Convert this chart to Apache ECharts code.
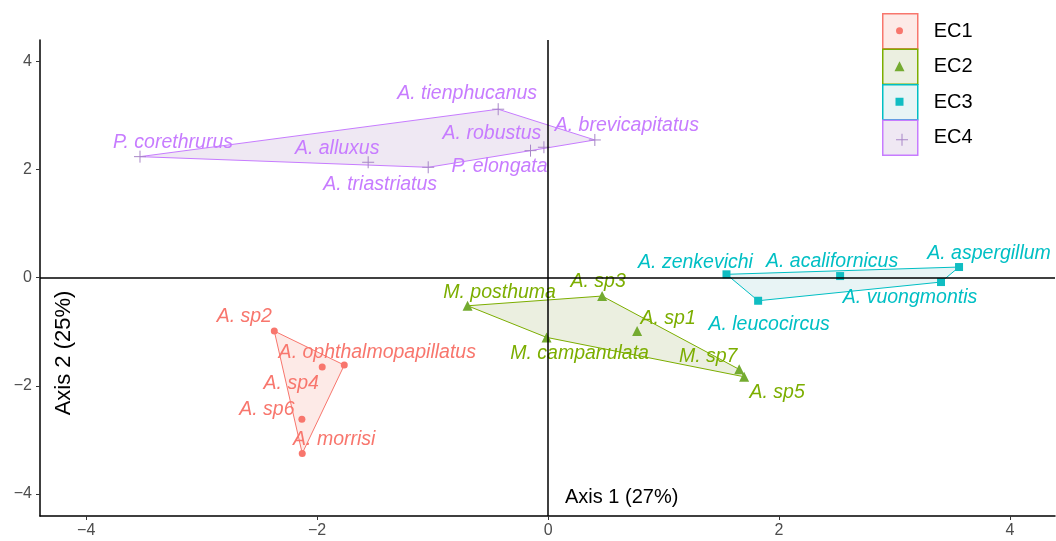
<!DOCTYPE html>
<html><head><meta charset="utf-8">
<script src="https://cdn.jsdelivr.net/npm/echarts@6/dist/echarts.min.js"></script>
<style>html,body{margin:0;padding:0;background:#fff}#c{width:1056px;height:541px}</style>
</head><body><div id="c"></div>
<script>
// ---------- data ----------
const groups = ['EC1', 'EC2', 'EC3', 'EC4'];

const ec1Names = ['A. sp2', 'A. ophthalmopapillatus', 'A. sp4', 'A. sp6', 'A. morrisi'];
const ec1X = [-2.371, -1.765, -1.956, -2.132, -2.129];
const ec1Y = [-0.987, -1.617, -1.654, -2.617, -3.252];

const ec2Names = ['M. posthuma', 'A. sp3', 'A. sp1', 'M. campanulata', 'M. sp7', 'A. sp5'];
const ec2X = [-0.697, 0.468, 0.771, -0.013, 1.655, 1.698];
const ec2Y = [-0.519, -0.339, -0.987, -1.104, -1.696, -1.833];

const ec3Names = ['A. zenkevichi', 'A. acalifornicus', 'A. aspergillum', 'A. vuongmontis', 'A. leucocircus'];
const ec3X = [1.545, 2.529, 3.559, 3.403, 1.819];
const ec3Y = [0.063, 0.031, 0.198, -0.080, -0.426];

const ec4Names = ['P. corethrurus', 'A. alluxus', 'A. triastriatus', 'A. tienphucanus', 'A. brevicapitatus', 'A. robustus', 'P. elongata'];
const ec4X = [-3.534, -1.558, -1.038, -0.432, 0.405, -0.036, -0.152];
const ec4Y = [2.241, 2.137, 2.044, 3.119, 2.550, 2.415, 2.352];

const xTicks = [-4, -2, 0, 2, 4];
const yTicks = [-4, -2, 0, 2, 4];
const axisTitles = ['Axis 1 (27%)', 'Axis 2 (25%)'];

// ---------- styling / layout (not data) ----------
const colors = ['#F8766D', '#7CAE00', '#00BFC4', '#C77CFF'];
const pointColors = ['#F8766D', '#74ab30', '#10bdc2', '#a886c8'];
const fills = ['#fdeae7', '#ebefe0', '#e8f4f5', '#efe8f3'];
const symbols = ['circle', 'triangle', 'rect', 'path://M5,0V10M0,5H10'];
const symbolSizes = [7, 10, 8, 12];
const labelOffsets = {
  'A. sp2': [-30, -14], 'A. ophthalmopapillatus': [33, -13], 'A. sp4': [-31, 16], 'A. sp6': [-35, -10], 'A. morrisi': [32, -14],
  'M. posthuma': [32, -13], 'A. sp3': [-4, -14], 'A. sp1': [31, -12], 'M. campanulata': [33, 16], 'M. sp7': [-31, -13], 'A. sp5': [33, 16],
  'A. zenkevichi': [-31, -12], 'A. acalifornicus': [-8, -14], 'A. aspergillum': [30, -13], 'A. vuongmontis': [-31, 16], 'A. leucocircus': [11, 24],
  'P. corethrurus': [33, -14], 'A. alluxus': [-31, -14], 'A. triastriatus': [-48, 17], 'A. tienphucanus': [-31, -16],
  'A. brevicapitatus': [32, -14], 'A. robustus': [-52, -14], 'P. elongata': [-31, 16]
};
const FONT = '"Liberation Sans", Arial, Helvetica, sans-serif';
const fmtTick = v => String(v).replace('-', '\u2212');

const sets = [
  [ec1Names, ec1X, ec1Y], [ec2Names, ec2X, ec2Y], [ec3Names, ec3X, ec3Y], [ec4Names, ec4X, ec4Y]
];

function hull(pts) {
  const p = pts.slice().sort((a, b) => a[0] - b[0] || a[1] - b[1]);
  const cross = (o, a, b) => (a[0] - o[0]) * (b[1] - o[1]) - (a[1] - o[1]) * (b[0] - o[0]);
  const lower = [], upper = [];
  for (const q of p) { while (lower.length >= 2 && cross(lower[lower.length - 2], lower[lower.length - 1], q) <= 0) lower.pop(); lower.push(q); }
  for (let i = p.length - 1; i >= 0; i--) { const q = p[i]; while (upper.length >= 2 && cross(upper[upper.length - 2], upper[upper.length - 1], q) <= 0) upper.pop(); upper.push(q); }
  upper.pop(); lower.pop();
  return lower.concat(upper);
}

const series = [];
sets.forEach(([names, xs, ys], gi) => {
  const pts = xs.map((x, i) => [x, ys[i]]);
  const h = hull(pts);
  series.push({
    type: 'custom', name: groups[gi], coordinateSystem: 'cartesian2d', silent: true, z: 1,
    data: pts,
    renderItem: function (params, api) {
      if (params.dataIndex !== 0) return null;
      return {
        type: 'polygon',
        shape: { points: h.map(p => api.coord(p)) },
        style: { fill: fills[gi], stroke: colors[gi], lineWidth: 1 }
      };
    }
  });
});
sets.forEach(([names, xs, ys], gi) => {
  const isPlus = gi === 3;
  const s = {
    type: 'scatter', name: groups[gi], z: 3, silent: true,
    symbol: symbols[gi], symbolSize: symbolSizes[gi],
    itemStyle: isPlus ? { color: 'none', borderColor: pointColors[gi], borderWidth: 1, opacity: 1 } : { color: pointColors[gi], opacity: 1 },
    label: { show: true, position: 'inside', formatter: '{b}', color: colors[gi], fontStyle: 'italic', fontSize: 19.5, fontFamily: FONT },
    emphasis: { disabled: true },
    data: names.map((n, i) => ({ name: n, value: [xs[i], ys[i]], label: { offset: labelOffsets[n] } }))
  };
  if (gi === 0) {
    s.markLine = {
      silent: true, symbol: ['none', 'none'], animation: false,
      label: { show: false },
      lineStyle: { color: '#000', width: 1.5, type: 'solid' },
      emphasis: { disabled: true },
      data: [{ xAxis: 0 }, { yAxis: 0 }]
    };
  }
  series.push(s);
});

const legends = [{
  orient: 'vertical', left: 882, top: 13, itemWidth: 35, itemHeight: 35, itemGap: -1, padding: 0,
  selectedMode: false,
  textStyle: { fontSize: 20, color: '#000', fontFamily: FONT, padding: [0, 0, 0, 11] },
  data: groups.map((g, i) => ({ name: g, icon: 'rect', itemStyle: { color: fills[i], borderColor: colors[i], borderWidth: 1.5 } }))
}];
groups.forEach((g, i) => {
  const w = symbolSizes[i];
  legends.push({
    orient: 'vertical', left: 899.5 - w / 2, top: 13 + 35.5 * i + 17.75 - w / 2,
    itemWidth: w, itemHeight: w, selectedMode: false, padding: 0,
    formatter: () => '',
    textStyle: { fontSize: 1, lineHeight: 1, color: 'transparent' },
    data: [{ name: g, icon: symbols[i], itemStyle: i === 3 ? { color: 'none', borderColor: pointColors[i], borderWidth: 1 } : { color: pointColors[i], borderWidth: 0 } }]
  });
});

const chart = echarts.init(document.getElementById('c'));
chart.setOption({
  animation: false,
  backgroundColor: '#fff',
  grid: { left: 40, right: 1, top: 40, bottom: 25 },
  legend: legends,
  xAxis: {
    type: 'value', min: -4.4, max: 4.39,
    axisLine: { show: true, onZero: false, lineStyle: { color: '#000', width: 1.5 } },
    axisTick: { show: true, customValues: xTicks, length: 4, lineStyle: { color: '#333' } },
    axisLabel: { customValues: xTicks, formatter: fmtTick, color: '#4d4d4d', fontSize: 16, margin: 7, fontFamily: FONT },
    splitLine: { show: false }
  },
  yAxis: {
    type: 'value', min: -4.41, max: 4.4,
    axisLine: { show: true, onZero: false, lineStyle: { color: '#000', width: 1.5 } },
    axisTick: { show: true, customValues: yTicks, length: 4, lineStyle: { color: '#333' } },
    axisLabel: { customValues: yTicks, formatter: fmtTick, color: '#4d4d4d', fontSize: 16, margin: 8, fontFamily: FONT },
    splitLine: { show: false }
  },
  graphic: [
    { type: 'text', x: 565, y: 497, silent: true, style: { text: axisTitles[0], fontSize: 20, fontFamily: FONT, fill: '#000', textAlign: 'left', textVerticalAlign: 'middle' } },
    { type: 'text', x: 63.5, y: 353, rotation: Math.PI / 2, silent: true, style: { text: axisTitles[1], fontSize: 22, fontFamily: FONT, fill: '#000', textAlign: 'center', textVerticalAlign: 'middle' } }
  ],
  series: series
});
</script></body></html>
